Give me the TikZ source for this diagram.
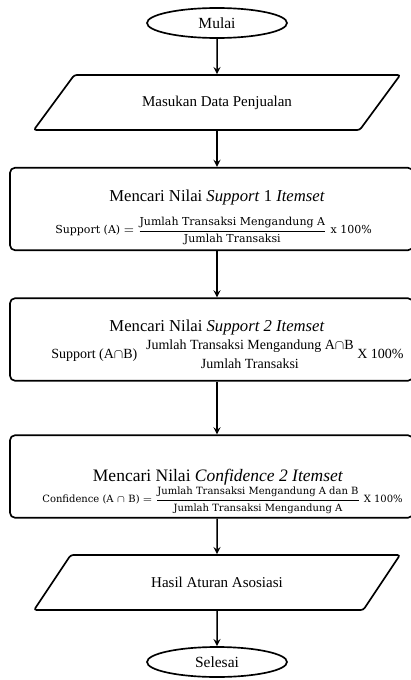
\documentclass[tikz,border=0pt]{standalone}
\usepackage{amsmath,amssymb}
\usepackage{fontspec}
\setmainfont{Liberation Serif}
\newfontfamily\eqfont{DejaVu Serif}
\usetikzlibrary{shapes,arrows,positioning,calc}

\begin{document}
\begin{tikzpicture}[
    x=0.6pt, y=-0.6pt,
    terminal/.style={ellipse, draw, line width=1pt, minimum width=84pt, minimum height=18pt, inner sep=0pt, font=\fontsize{9.3}{11}\selectfont},
    io/.style={trapezium, trapezium left angle=32.6, trapezium right angle=147.4, trapezium stretches=true, draw, line width=1pt, rounded corners=1.5pt, minimum width=220pt, minimum height=33pt, inner sep=0pt, font=\fontsize{9}{11}\selectfont},
    process/.style={rectangle, draw, line width=1pt, rounded corners=3pt, minimum width=241.8pt, minimum height=49.5pt},
    title/.style={font=\fontsize{10}{12}\selectfont, inner sep=0pt},
    formula/.style={inner sep=0pt},
    arrow/.style={->, line width=0.9pt, >=stealth}
]
    \useasboundingbox (0,0) rectangle (411,680);

    % Start and input
    \node[terminal] (mulai) at (217,23) {Mulai};
    \node[io] (input) at (217,102.5) {Masukan Data Penjualan};

    % Support 1 Itemset
    \node[process] (sup1) at (211.5,209) {};
    \node[title] (sup1title) at ($(sup1.center)+(5.5,-12)$) {Mencari Nilai \textit{Support} 1 \textit{Itemset}};
    \node[formula, font=\eqfont\fontsize{6.6}{8}\selectfont] (sup1eq) at ($(sup1.center)+(2,22)$)
        {Support (A) $=$ $\dfrac{\text{Jumlah Transaksi Mengandung A}}{\text{Jumlah Transaksi}}$ x 100\%};

    % Support 2 Itemset
    \node[process] (sup2) at (211.5,339.5) {};
    \node[title] (sup2title) at ($(sup2.center)+(5.5,-12.5)$) {Mencari Nilai \textit{Support 2 Itemset}};
    \node[formula, font=\fontsize{8.4}{9}\selectfont] (sup2eq) at ($(sup2.center)+(16,15)$)
        {Support (A$\cap$B)\hspace{4pt}$\genfrac{}{}{0pt}{0}{\text{Jumlah Transaksi Mengandung A$\cap$B}}{\text{Jumlah Transaksi}}$\hspace{1pt}X 100\%};

    % Confidence 2 Itemset
    \node[process] (conf) at (211.5,476.5) {};
    \node[title, font=\fontsize{10.5}{12}\selectfont] (conftitle) at ($(conf.center)+(6.5,1)$) {Mencari Nilai \textit{Confidence 2 Itemset}};
    \node[formula, font=\eqfont\fontsize{6}{7}\selectfont] (confeq) at ($(conf.center)+(11,24)$)
        {Confidence (A $\cap$ B) $=$ $\dfrac{\text{Jumlah Transaksi Mengandung A dan B}}{\text{Jumlah Transaksi Mengandung A}}$ X 100\%};

    % Output and end
    \node[io] (hasil) at (217,582.5) {Hasil Aturan Asosiasi};
    \node[terminal] (selesai) at (217,662) {Selesai};

    % Arrows
    \draw[arrow] (mulai.south) -- (input.north);
    \draw[arrow] (input.south) -- (input.south |- sup1.north);
    \draw[arrow] (sup1.south -| mulai) -- (sup2.north -| mulai);
    \draw[arrow] (sup2.south -| mulai) -- (conf.north -| mulai);
    \draw[arrow] (conf.south -| mulai) -- (hasil.north);
    \draw[arrow] (hasil.south) -- (selesai.north);
\end{tikzpicture}
\end{document}
